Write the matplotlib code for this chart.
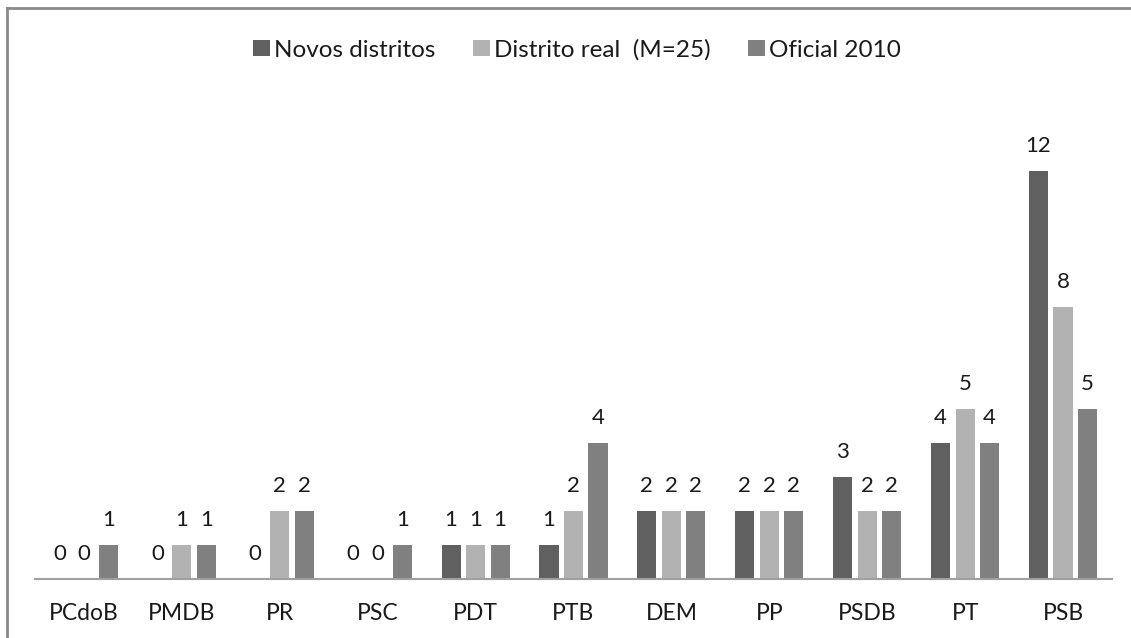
import matplotlib
matplotlib.use("Agg")
import matplotlib.pyplot as plt
import numpy as np
from matplotlib.lines import Line2D
from matplotlib.patches import Patch

categories = ["PCdoB", "PMDB", "PR", "PSC", "PDT", "PTB", "DEM", "PP", "PSDB", "PT", "PSB"]
novos = [0, 0, 0, 0, 1, 1, 2, 2, 3, 4, 12]
real = [0, 1, 2, 0, 1, 2, 2, 2, 2, 5, 8]
oficial = [1, 1, 2, 1, 1, 4, 2, 2, 2, 4, 5]
series_names = ["Novos distritos", "Distrito real  (M=25)", "Oficial 2010"]
colors = ["#606060", "#b2b2b2", "#808080"]

plt.rcParams['font.family'] = ['Lato', 'DejaVu Sans']

W, H = 1131, 638
fig = plt.figure(figsize=(W / 100, H / 100), dpi=100)
ax = fig.add_axes([35 / W, 59 / H, 1077 / W, 476 / H])

x = np.arange(len(categories))
width = 0.195
offset = 0.25
for i, (vals, name, col) in enumerate(zip([novos, real, oficial], series_names, colors)):
    pos = x + (i - 1) * offset
    ax.bar(pos, vals, width, color=col, label=name, edgecolor='none')
    for p, v in zip(pos, vals):
        ax.annotate(str(v), (p, v), xytext=(0, 13.5), textcoords='offset points',
                    ha='center', va='baseline', fontsize=16, color='#1a1a1a')

ax.set_xlim(-0.5, len(categories) - 0.5)
ax.set_ylim(0, 14)
ax.set_xticks(x)
ax.set_xticklabels(categories, fontsize=16.5, color='#1a1a1a')
ax.tick_params(axis='x', length=0, pad=17)
ax.set_yticks([])
for s in ['top', 'right', 'left']:
    ax.spines[s].set_visible(False)
ax.spines['bottom'].set_color('#a0a0a0')
ax.spines['bottom'].set_linewidth(1.5)

handles = [Patch(facecolor=c, edgecolor='none') for c in colors]
fig.legend(handles, series_names, loc='center', bbox_to_anchor=(577 / W, 1 - 50 / H),
           ncol=3, frameon=False, fontsize=17.5, handlelength=0.7, handleheight=0.62,
           handletextpad=0.16, columnspacing=1.55, labelcolor='#1a1a1a',
           borderpad=0, borderaxespad=0)

# outer frame (top and left visible)
fig.add_artist(Line2D([7 / W, 1], [1 - 8 / H, 1 - 8 / H], transform=fig.transFigure,
                      color='#8a8a8a', linewidth=2))
fig.add_artist(Line2D([7 / W, 7 / W], [0, 1 - 8 / H], transform=fig.transFigure,
                      color='#8a8a8a', linewidth=2))

fig.savefig("out.png", dpi=100)
